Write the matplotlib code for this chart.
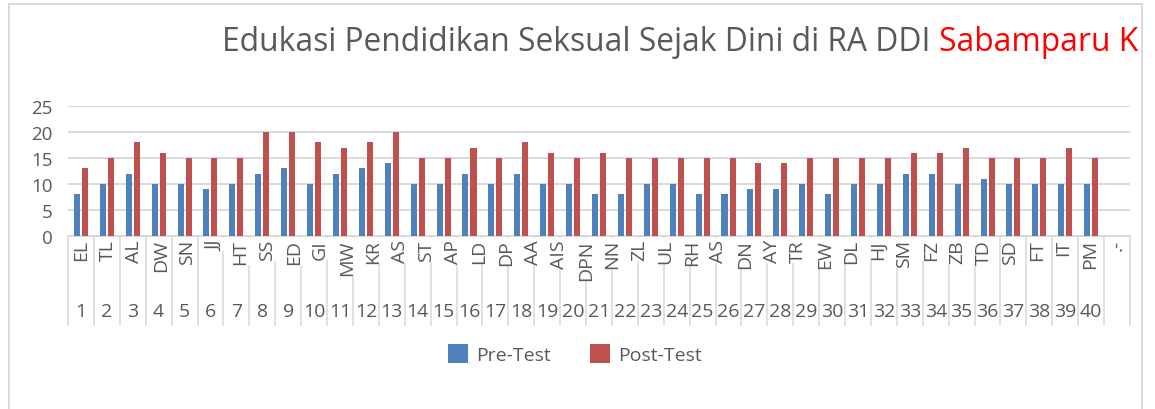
import numpy as np
import matplotlib
matplotlib.use("Agg")
import matplotlib.pyplot as plt
from matplotlib.patches import Rectangle
from matplotlib.transforms import Bbox, TransformedBbox

plt.rcParams['font.family'] = ['Open Sans', 'DejaVu Sans']

# ---- data ----
names = ["EL", "TL", "AL", "DW", "SN", "JJ", "HT", "SS", "ED", "GI", "MW", "KR", "AS",
         "ST", "AP", "LD", "DP", "AA", "AIS", "DPN", "NN", "ZL", "UL", "RH", "AS", "DN",
         "AY", "TR", "EW", "DL", "HJ", "SM", "FZ", "ZB", "TD", "SD", "FT", "IT", "PM", ".-"]
numbers = [str(i) for i in range(1, 41)]
pre_test = [8, 10, 12, 10, 10, 9, 10, 12, 13, 10, 12, 13, 14, 10, 10, 12, 10, 12, 10, 10,
            8, 8, 10, 10, 8, 8, 9, 9, 10, 8, 10, 10, 12, 12, 10, 11, 10, 10, 10, 10]
post_test = [13, 15, 18, 16, 15, 15, 15, 20, 20, 18, 17, 18, 20, 15, 15, 17, 15, 18, 16, 15,
             16, 15, 15, 15, 15, 15, 14, 14, 15, 15, 15, 15, 16, 16, 17, 15, 15, 15, 17, 15]
title_main = "Edukasi Pendidikan Seksual Sejak Dini di RA DDI"
title_red = "Sabamparu K"
series_names = ["Pre-Test", "Post-Test"]

BLUE = "#4F81BD"
RED = "#C0504D"
GRID = "#D9D9D9"
TXT = "#595959"

W, H = 1155, 410
fig = plt.figure(figsize=(W / 100, H / 100), dpi=100)
fig.patch.set_facecolor("white")

# chart border
fig.add_artist(Rectangle((9 / W, -0.05), (1142 - 9) / W, 1.05 - 5 / H,
                         transform=fig.transFigure, fill=False, ec=GRID, lw=1.4))

ax = fig.add_axes([68 / W, 1 - 237 / H, (1130 - 68) / W, 130 / H])

n_slots = len(pre_test) + 1
x = np.arange(len(pre_test))
bw = 0.232
off = 0.155
ax.bar(x - off, pre_test, width=bw, color=BLUE, label=series_names[0], zorder=3)
ax.bar(x + off, post_test, width=bw, color=RED, label=series_names[1], zorder=3)

ax.set_xlim(-0.5, n_slots - 0.5)
ax.set_ylim(0, 25)
ax.set_yticks(np.arange(0, 26, 5))
ax.tick_params(axis='y', length=0, pad=11, labelsize=13.5, labelcolor=TXT)
ax.yaxis.grid(True, color=GRID, lw=1.4)
ax.set_axisbelow(True)
for s in ["top", "right", "left"]:
    ax.spines[s].set_visible(False)
ax.spines["bottom"].set_color(GRID)
ax.spines["bottom"].set_linewidth(1.4)

# separators
ax.set_xticks([])
ax.set_xticks(np.arange(n_slots + 1) - 0.5, minor=True)
ax.tick_params(axis='x', which='minor', length=65, width=1.1, color=GRID,
               direction='out', labelbottom=False)

xt = ax.get_xaxis_transform()
# inner (name) labels spread over the axis, white background hides separators
label_pos = (np.arange(len(names)) + 0.5) * (n_slots / len(names)) - 0.5
for p, nm in zip(label_pos, names):
    ax.text(p, -0.025, nm, transform=xt, rotation=90, ha='center', va='top',
            fontsize=14, color=TXT, zorder=5, clip_on=False,
            bbox=dict(boxstyle='square,pad=0.05', fc='white', ec='none'))

# outer (number) labels
for i, num in enumerate(numbers):
    ax.text(i, -0.577, num, transform=xt, ha='center', va='center',
            fontsize=14, color=TXT, clip_on=False)

# title, clipped at the chart border
clip = TransformedBbox(Bbox([[0, 0], [1143 / W, 1]]), fig.transFigure)
t1 = fig.text(222 / W, 1 - 51 / H, title_main, fontsize=22.85, color=TXT,
              ha='left', va='baseline')
t1.set_clip_box(clip)
fig.canvas.draw()
t2 = ax.annotate(title_red, xy=(1, 0), xycoords=t1, xytext=(6, 0),
                 textcoords='offset points', fontsize=22.85, color='#FF0000',
                 ha='left', va='bottom', annotation_clip=False)
t2.set_clip_on(True)
t2.set_clip_box(clip)

fig.legend(loc='center', bbox_to_anchor=(0.498, 1 - 355 / H), ncol=2, frameon=False,
           fontsize=14, handlelength=1.0, handleheight=1.1, handletextpad=0.45,
           columnspacing=2.0, labelcolor=TXT)

fig.savefig("out.png", dpi=100)
